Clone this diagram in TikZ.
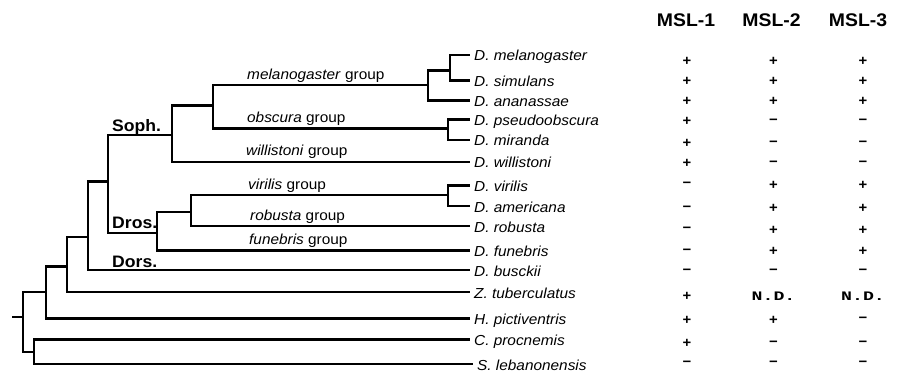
\documentclass[tikz,border=0pt]{standalone}
\usepackage{fontspec}
\setmainfont{Liberation Sans}[FakeStretch=1.06]
\newfontfamily\ndfont{Liberation Mono}[FakeStretch=1.4]
\newcommand\symplus{+}
\newcommand\symminus{−}
\newcommand\NDtext{{\fontsize{13}{15}\selectfont\ndfont\bfseries N.D.}}
\begin{document}
\begin{tikzpicture}[x=1pt,y=-1pt,
  br/.style={line width=2.6pt, line join=miter},
  leaf/.style={anchor=west, inner xsep=4pt, inner ysep=0pt, text height=12pt, text depth=0pt, font=\fontsize{14.5}{16}\selectfont\itshape},
  grp/.style={anchor=base west, inner sep=0pt, font=\fontsize{14.5}{16}\selectfont},
  clade/.style={anchor=base west, inner sep=0pt, font=\fontsize{16.6}{18}\selectfont\bfseries},
  hdr/.style={inner sep=0pt, font=\fontsize{18.3}{20}\selectfont\bfseries},
  sym/.style={inner sep=0pt, font=\fontsize{14}{16}\selectfont\bfseries}]
\useasboundingbox (0,0) rectangle (899,374);

% internal nodes
\coordinate (stub) at (12,317);
\coordinate (root) at (23,317);
\coordinate (nH) at (46,292);
\coordinate (nZ) at (67,266.7);
\coordinate (nDors) at (88,237);
\coordinate (nSD) at (108,181.7);
\coordinate (nSoph) at (172,135);
\coordinate (nMO) at (213,105.7);
\coordinate (nMel) at (428,85);
\coordinate (nMS) at (450,70.7);
\coordinate (nObs) at (448,128.5);
\coordinate (nDros) at (157,233);
\coordinate (nVR) at (191,212);
\coordinate (nVir) at (448,195);
\coordinate (nCS) at (34,352);

% leaves
\node[leaf] (lmel) at (470,55) {D. melanogaster};
\node[leaf] (lsim) at (470,80.5) {D. simulans};
\node[leaf] (lana) at (470,100.5) {D. ananassae};
\node[leaf] (lpse) at (470,119.5) {D. pseudoobscura};
\node[leaf] (lmir) at (470,140) {D. miranda};
\node[leaf] (lwil) at (470,162) {D. willistoni};
\node[leaf] (lvir) at (470,185.5) {D. virilis};
\node[leaf] (lame) at (470,206) {D. americana};
\node[leaf] (lrob) at (470,226) {D. robusta};
\node[leaf] (lfun) at (470,250.5) {D. funebris};
\node[leaf] (lbus) at (470,270) {D. busckii};
\node[leaf] (lZ) at (470,292) {Z. tuberculatus};
\node[leaf] (lH) at (470,318.5) {H. pictiventris};
\node[leaf] (lC) at (470,339.5) {C. procnemis};
\node[leaf,xshift=3pt] (lS) at (470,364) {S. lebanonensis};

% branches
\draw[br] (stub) -- (root);
\draw[br] (root) |- (nH);
\draw[br] (root) |- (nCS);
\draw[br] (nH) |- (nZ);
\draw[br] (nH) |- (lH.west);
\draw[br] (nZ) |- (nDors);
\draw[br] (nZ) |- (lZ.west);
\draw[br] (nDors) |- (nSD);
\draw[br] (nDors) |- (lbus.west);
\draw[br] (nSD) |- (nSoph);
\draw[br] (nSD) |- (nDros);
\draw[br] (nSoph) |- (nMO);
\draw[br] (nSoph) |- (lwil.west);
\draw[br] (nMO) |- (nMel);
\draw[br] (nMO) |- (nObs);
\draw[br] (nMel) |- (nMS);
\draw[br] (nMel) |- (lana.west);
\draw[br] (nMS) |- (lmel.west);
\draw[br] (nMS) |- (lsim.west);
\draw[br] (nObs) |- (lpse.west);
\draw[br] (nObs) |- (lmir.west);
\draw[br] (nDros) |- (nVR);
\draw[br] (nDros) |- (lfun.west);
\draw[br] (nVR) |- (nVir);
\draw[br] (nVR) |- (lrob.west);
\draw[br] (nVir) |- (lvir.west);
\draw[br] (nVir) |- (lame.west);
\draw[br] (nCS) |- (lC.west);
\draw[br] (nCS) |- (lS.west);

% group labels
\node[grp] (gmel) at (247,79.5) {\textit{melanogaster} group};
\node[grp] (gobs) at (247,122.5) {\textit{obscura} group};
\node[grp] (gwil) at (246,156) {\textit{willistoni} group};
\node[grp] (gvir) at (248,189.5) {\textit{virilis} group};
\node[grp] (grob) at (250,220) {\textit{robusta} group};
\node[grp] (gfun) at (249,244.5) {\textit{funebris} group};

% clade labels
\node[clade] (soph) at (112,131.5) {Soph.};
\node[clade] (dros) at (112,229) {Dros.};
\node[clade] (dors) at (112,267) {Dors.};

% table headers
\node[hdr] (h1) at (686,20) {MSL-1};
\node[hdr] (h2) at (771.5,20) {MSL-2};
\node[hdr] (h3) at (858,20) {MSL-3};

% table entries
\foreach \y/\a/\b/\c [count=\i] in {
  61.7/\symplus/\symplus/\symplus,
  81.7/\symplus/\symplus/\symplus,
  101.7/\symplus/\symplus/\symplus,
  121.7/\symplus/\symminus/\symminus,
  143.3/\symplus/\symminus/\symminus,
  163.3/\symplus/\symminus/\symminus,
  185/\symminus/\symplus/\symplus,
  208.3/\symminus/\symplus/\symplus,
  230/\symminus/\symplus/\symplus,
  251.7/\symminus/\symplus/\symplus,
  271.7/\symminus/\symminus/\symminus,
  296.7/\symplus/\NDtext/\NDtext,
  320/\symplus/\symplus/\symminus,
  343.3/\symplus/\symminus/\symminus,
  363.3/\symminus/\symminus/\symminus} {
  \node[sym] (ca\i) at (687,\y) {\a};
  \node[sym] (cb\i) at (773.5,\y) {\b};
  \node[sym] (cc\i) at (863,\y) {\c};
}
\end{tikzpicture}
\end{document}
